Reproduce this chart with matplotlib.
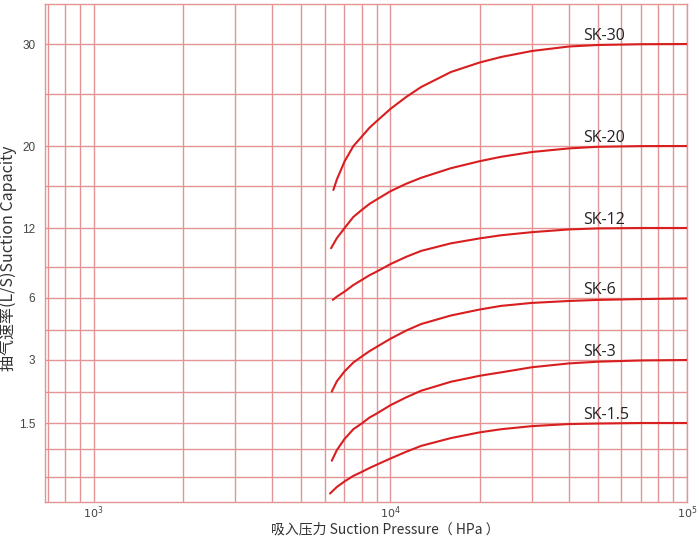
import numpy as np
import matplotlib
matplotlib.use("Agg")
import matplotlib.pyplot as plt
from matplotlib.ticker import FixedLocator, LogLocator, NullFormatter, FixedFormatter

plt.rcParams['font.family'] = ['Noto Sans CJK SC', 'DejaVu Sans']

# ---- data ----
series_names = ["SK-30", "SK-20", "SK-12", "SK-6", "SK-3", "SK-1.5"]
start_pressure = [6425, 6310, 6395, 6345, 6345, 6260]
pressure = [6600, 7000, 7500, 8000, 8500, 9000, 10000, 11300, 12700, 16000,
            20000, 23600, 30000, 40000, 50000, 70000, 100000]

sk30 = [15.62, 16.65, 18.43, 19.98, 20.89, 21.75, 22.40, 23.56, 24.71, 25.7,
        27.2, 28.15, 28.7, 29.3, 29.75, 29.9, 29.98, 30.0]
sk20 = [10.44, 11.22, 11.98, 13.05, 13.71, 14.29, 14.72, 15.50, 16.22, 16.82,
        17.78, 18.48, 18.92, 19.4, 19.76, 19.92, 19.99, 20.0]
sk12 = [5.91, 6.13, 6.61, 7.25, 7.74, 8.20, 8.56, 9.22, 9.78, 10.24,
        10.82, 11.20, 11.44, 11.68, 11.89, 11.97, 12.0, 12.0]
sk6 = [2.26, 2.50, 2.73, 2.94, 3.17, 3.44, 3.66, 4.06, 4.47, 4.78,
       5.18, 5.46, 5.63, 5.77, 5.86, 5.91, 5.95, 5.98]
sk3 = [0.79, 0.98, 1.19, 1.38, 1.49, 1.63, 1.73, 1.93, 2.12, 2.28,
       2.49, 2.63, 2.71, 2.83, 2.92, 2.96, 2.99, 3.0]
sk15 = [0.17, 0.30, 0.41, 0.52, 0.59, 0.66, 0.72, 0.83, 0.95, 1.06,
        1.21, 1.32, 1.38, 1.44, 1.48, 1.49, 1.5, 1.5]
series_values = [sk30, sk20, sk12, sk6, sk3, sk15]

y_major = [1.5, 3, 6, 12, 20, 30]
y_major_labels = ["1.5", "3", "6", "12", "20", "30"]
y_minor = [0.5, 1, 2.25, 4.5, 9, 16, 25]

# non-uniform capacity scale of the original chart (value -> relative height)
scale_levels = [0, 0.5, 1, 1.5, 2.25, 3, 4.5, 6, 9, 12, 16, 20, 25, 30, 35]
scale_height = [0, 25, 53, 79, 110, 142, 172, 204, 235, 274, 316, 356, 408, 458, 498]

label_pressure = 44500

# ---- styling ----
grid_color = '#e49494'
curve_color = '#d81e1e'
text_color = '#333333'

fig = plt.figure(figsize=(7.0, 5.36), dpi=100)
ax = fig.add_axes([45/700, 1 - 502/536, (687-45)/700, (502-4)/536])

def fwd(v):
    return np.interp(v, scale_levels, scale_height)

def inv(h):
    return np.interp(h, scale_height, scale_levels)

ax.set_xscale('log')
ax.set_yscale('function', functions=(fwd, inv))
ax.set_xlim(685, 100000)
ax.set_ylim(0, 35)

for name, p0, vals in zip(series_names, start_pressure, series_values):
    xs = [p0] + pressure
    ax.plot(xs, vals, color=curve_color, lw=1.5, solid_capstyle='round',
            solid_joinstyle='round', zorder=3)
    ax.annotate(name, xy=(label_pressure, vals[-1]), xytext=(0, 3),
                textcoords='offset points', ha='left', va='baseline',
                fontsize=11.5, color='#222222', family=['Open Sans', 'DejaVu Sans'], zorder=4)

# axes ticks
ax.xaxis.set_major_locator(FixedLocator([1e3, 1e4, 1e5]))
ax.xaxis.set_major_formatter(FixedFormatter([r'$10^3$', r'$10^4$', r'$10^5$']))
ax.xaxis.set_minor_locator(LogLocator(base=10, subs=np.arange(2, 10)))
ax.xaxis.set_minor_formatter(NullFormatter())

ax.yaxis.set_major_locator(FixedLocator(y_major))
ax.yaxis.set_major_formatter(FixedFormatter(y_major_labels))
ax.yaxis.set_minor_locator(FixedLocator(y_minor))
ax.yaxis.set_minor_formatter(NullFormatter())

ax.grid(True, which='both', color=grid_color, lw=1.0, zorder=1)
ax.set_axisbelow(True)
ax.tick_params(which='both', length=0)
ax.tick_params(axis='y', pad=7, labelsize=8.5, labelcolor='#444444')
ax.tick_params(axis='x', pad=2, labelsize=8, labelcolor='#444444')
for lab in ax.get_yticklabels():
    lab.set_family(['Liberation Sans', 'DejaVu Sans'])
for s in ax.spines.values():
    s.set_color(grid_color)
    s.set_linewidth(1.0)

ax.set_xlabel('吸入压力 Suction Pressure（ HPa ）', fontsize=10, color=text_color)
ax.xaxis.set_label_coords(0.53, -0.041)
ax.xaxis.label.set_va('top')
ax.set_ylabel('抽气速率(L/S)Suction Capacity', fontsize=11.5, color=text_color)
ax.yaxis.set_label_coords(-0.043, 0.49)

fig.savefig('out.png', dpi=100)
